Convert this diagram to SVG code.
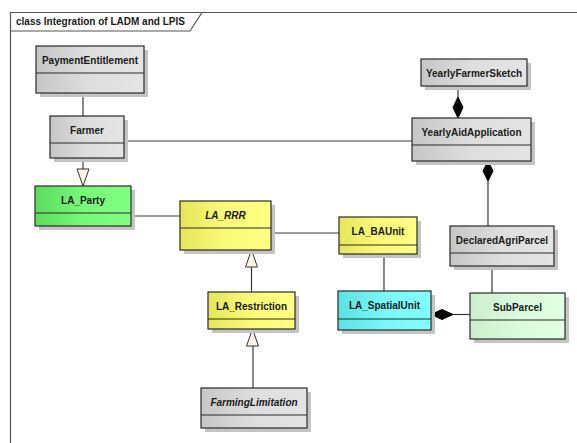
<svg xmlns="http://www.w3.org/2000/svg" width="577" height="443" viewBox="0 0 577 443">
<defs>
<linearGradient id="gGrey" x1="0" y1="0" x2="1" y2="0"><stop offset="0" stop-color="#c6c6c6"/><stop offset="0.5" stop-color="#dedede"/><stop offset="1" stop-color="#e4e4e4"/></linearGradient>
<linearGradient id="gGreen" x1="0" y1="0" x2="1" y2="0"><stop offset="0" stop-color="#5cdc5c"/><stop offset="0.5" stop-color="#78f878"/><stop offset="1" stop-color="#80ff80"/></linearGradient>
<linearGradient id="gYellow" x1="0" y1="0" x2="1" y2="0"><stop offset="0" stop-color="#e6e65a"/><stop offset="0.5" stop-color="#fafa78"/><stop offset="1" stop-color="#ffff80"/></linearGradient>
<linearGradient id="gCyan" x1="0" y1="0" x2="1" y2="0"><stop offset="0" stop-color="#5ae2e2"/><stop offset="0.5" stop-color="#78f8f8"/><stop offset="1" stop-color="#80ffff"/></linearGradient>
<linearGradient id="gLGreen" x1="0" y1="0" x2="1" y2="0"><stop offset="0" stop-color="#cdeecd"/><stop offset="0.5" stop-color="#dcfadc"/><stop offset="1" stop-color="#e2ffe2"/></linearGradient>
</defs>
<style>
.sh{fill:#c4c4c4}
.box{stroke:#2a2a2a;stroke-width:1.2}
.div{stroke:#2a2a2a;stroke-width:1.2}
.t{font-family:"Liberation Sans",Arial,sans-serif;font-size:10px;font-weight:bold;fill:#1a1a1a;text-anchor:middle}
.it{font-style:italic}
.ln{stroke:#3a3a3a;stroke-width:1.2;fill:none}
.gen{fill:#fff6ea;stroke:#333;stroke-width:1}
.dia{fill:#000;stroke:#000;stroke-width:1}
.frame{stroke:#555;stroke-width:1.2;fill:none}
</style>
<rect width="577" height="443" fill="#fff"/>
<g id="frame">
<path class="frame" d="M10.5,443 V12.5 H577"/>
<path class="frame" d="M10.5,31 H190 L202,12.5"/>
<text x="16" y="25" style="font-family:'Liberation Sans',Arial,sans-serif;font-size:10px;font-weight:bold;fill:#1a1a1a">class Integration of LADM and LPIS</text>
</g>
<g id="connectors">
<line class="ln" x1="83" y1="93" x2="83" y2="116"/>
<line class="ln" x1="83" y1="158" x2="83" y2="169"/>
<polygon class="gen" points="77,169 89,169 83,186"/>
<line class="ln" x1="131" y1="216" x2="180" y2="216"/>
<line class="ln" x1="124" y1="141" x2="412" y2="141"/>
<line class="ln" x1="458" y1="86" x2="458" y2="97"/>
<polygon class="dia" points="458,97 463,107.5 458,118 453,107.5"/>
<line class="ln" x1="271" y1="233" x2="339" y2="233"/>
<polygon class="dia" points="488,161 493,171 488,181 483,171"/>
<line class="ln" x1="488" y1="181" x2="488" y2="226"/>
<line class="ln" x1="384" y1="254" x2="384" y2="291"/>
<line class="ln" x1="492" y1="266" x2="492" y2="293"/>
<polygon class="dia" points="431,314.5 442,309.5 453,314.5 442,319.5"/>
<line class="ln" x1="453" y1="314.5" x2="470" y2="314.5"/>
<polygon class="gen" points="251.5,250 245.5,267 257.5,267"/>
<line class="ln" x1="251.5" y1="267" x2="251.5" y2="292"/>
<polygon class="gen" points="252.5,329 246.5,346 258.5,346"/>
<line class="ln" x1="253" y1="346" x2="253" y2="388"/>
</g>
<g id="PaymentEntitlement">
<rect class="sh" x="40" y="50" width="108" height="47"/>
<rect class="box" x="36" y="46" width="108" height="47" fill="url(#gGrey)"/>
<line class="div" x1="36" y1="73" x2="144" y2="73"/>
<text class="t" x="90" y="63.5">PaymentEntitlement</text>
</g>
<g id="Farmer">
<rect class="sh" x="54" y="120" width="74" height="42"/>
<rect class="box" x="50" y="116" width="74" height="42" fill="url(#gGrey)"/>
<line class="div" x1="50" y1="143" x2="124" y2="143"/>
<text class="t" x="87" y="133.5">Farmer</text>
</g>
<g id="LA_Party">
<rect class="sh" x="39" y="190" width="96" height="40"/>
<rect class="box" x="35" y="186" width="96" height="40" fill="url(#gGreen)"/>
<line class="div" x1="35" y1="213" x2="131" y2="213"/>
<text class="t" x="83" y="203.5">LA_Party</text>
</g>
<g id="LA_RRR">
<rect class="sh" x="184" y="205" width="91" height="49"/>
<rect class="box" x="180" y="201" width="91" height="49" fill="url(#gYellow)"/>
<line class="div" x1="180" y1="228" x2="271" y2="228"/>
<text class="t it" x="225.5" y="218.5">LA_RRR</text>
</g>
<g id="YearlyFarmerSketch">
<rect class="sh" x="425" y="63" width="106" height="27"/>
<rect class="box" x="421" y="59" width="106" height="27" fill="url(#gGrey)"/>
<text class="t" x="474" y="76.5">YearlyFarmerSketch</text>
</g>
<g id="YearlyAidApplication">
<rect class="sh" x="416" y="122" width="119" height="43"/>
<rect class="box" x="412" y="118" width="119" height="43" fill="url(#gGrey)"/>
<line class="div" x1="412" y1="145" x2="531" y2="145"/>
<text class="t" x="471.5" y="135.5">YearlyAidApplication</text>
</g>
<g id="LA_BAUnit">
<rect class="sh" x="343" y="221" width="78" height="37"/>
<rect class="box" x="339" y="217" width="78" height="37" fill="url(#gYellow)"/>
<line class="div" x1="339" y1="245" x2="417" y2="245"/>
<text class="t" x="378" y="235">LA_BAUnit</text>
</g>
<g id="DeclaredAgriParcel">
<rect class="sh" x="454" y="230" width="104" height="40"/>
<rect class="box" x="450" y="226" width="104" height="40" fill="url(#gGrey)"/>
<line class="div" x1="450" y1="253" x2="554" y2="253"/>
<text class="t" x="502" y="243.5">DeclaredAgriParcel</text>
</g>
<g id="LA_SpatialUnit">
<rect class="sh" x="342" y="295" width="93" height="39"/>
<rect class="box" x="338" y="291" width="93" height="39" fill="url(#gCyan)"/>
<line class="div" x1="338" y1="319" x2="431" y2="319"/>
<text class="t" x="384.5" y="309">LA_SpatialUnit</text>
</g>
<g id="SubParcel">
<rect class="sh" x="474" y="297" width="95" height="46"/>
<rect class="box" x="470" y="293" width="95" height="46" fill="url(#gLGreen)"/>
<line class="div" x1="470" y1="320" x2="565" y2="320"/>
<text class="t" x="517.5" y="310.5">SubParcel</text>
</g>
<g id="LA_Restriction">
<rect class="sh" x="212" y="296" width="87" height="37"/>
<rect class="box" x="208" y="292" width="87" height="37" fill="url(#gYellow)"/>
<line class="div" x1="208" y1="319" x2="295" y2="319"/>
<text class="t" x="251.5" y="309.5">LA_Restriction</text>
</g>
<g id="FarmingLimitation">
<rect class="sh" x="205" y="392" width="106" height="40"/>
<rect class="box" x="201" y="388" width="106" height="40" fill="url(#gGrey)"/>
<line class="div" x1="201" y1="415" x2="307" y2="415"/>
<text class="t it" x="254" y="405.5">FarmingLimitation</text>
</g>
</svg>
